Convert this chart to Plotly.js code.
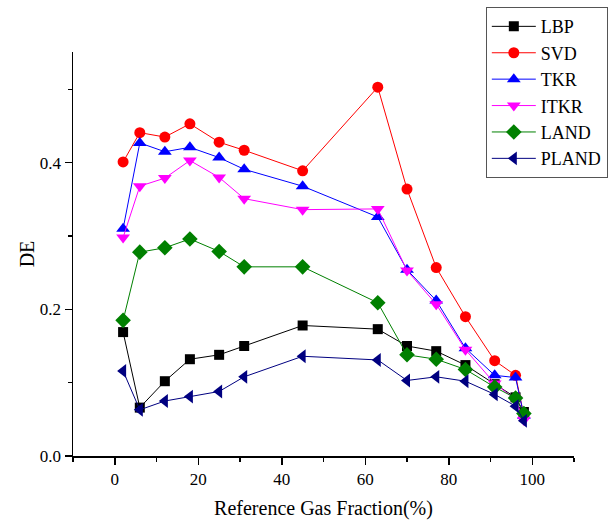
<!DOCTYPE html>
<html>
<head>
<meta charset="utf-8">
<script src="https://cdn.plot.ly/plotly-3.0.1.min.js"></script>
<style>html,body{margin:0;padding:0;background:#fff;}</style>
</head>
<body>
<div id="chart" style="width:613px;height:520px;"></div>
<script>
const fraction = [2, 6, 12, 18, 25, 31, 45, 63, 70, 77, 84, 91, 96, 98];
const LBP   = [0.169, 0.066, 0.102, 0.132, 0.138, 0.150, 0.178, 0.173, 0.150, 0.143, 0.124, 0.098, 0.080, 0.060];
const SVD   = [0.401, 0.441, 0.435, 0.453, 0.428, 0.417, 0.389, 0.503, 0.364, 0.257, 0.190, 0.130, 0.110, 0.055];
const TKR   = [0.310, 0.427, 0.415, 0.421, 0.407, 0.391, 0.368, 0.326, 0.254, 0.212, 0.147, 0.110, 0.107, 0.055];
const ITKR  = [0.298, 0.368, 0.379, 0.403, 0.380, 0.351, 0.336, 0.337, 0.253, 0.207, 0.145, 0.099, 0.077, 0.049];
const LAND  = [0.185, 0.278, 0.284, 0.296, 0.279, 0.258, 0.258, 0.209, 0.138, 0.132, 0.118, 0.094, 0.079, 0.058];
const PLAND = [0.116, 0.063, 0.075, 0.081, 0.088, 0.108, 0.136, 0.131, 0.103, 0.108, 0.102, 0.084, 0.068, 0.048];

const seriesNames = ['LBP', 'SVD', 'TKR', 'ITKR', 'LAND', 'PLAND'];
const seriesData = [LBP, SVD, TKR, ITKR, LAND, PLAND];
const colors = ['#000000', '#ff0000', '#0000ff', '#ff00ff', '#008000', '#000080'];
const symbols = ['square', 'circle', 'triangle-up', 'triangle-down', 'diamond', 'triangle-left'];
const sizes = [10, 11, 12, 12, 12, 12];

const traces = seriesNames.map((n, i) => ({
  x: fraction, y: seriesData[i], name: n, type: 'scatter', mode: 'lines+markers',
  line: {color: colors[i], width: 1},
  marker: {color: colors[i], symbol: symbols[i], size: sizes[i], line: {width: 0}}
}));

const font = 'Liberation Serif';
const layout = {
  width: 613, height: 520,
  margin: {l: 73, r: 39, t: 52, b: 64, autoexpand: false},
  paper_bgcolor: '#fff', plot_bgcolor: '#fff',
  font: {family: font, size: 17, color: '#000'},
  showlegend: true,
  legend: {x: 0.824, y: 1.111, xanchor: 'left', yanchor: 'top',
    bordercolor: '#555', borderwidth: 1, bgcolor: '#fff',
    font: {family: font, size: 18, color: '#000'}, tracegroupgap: 0, itemwidth: 44},
  xaxis: {
    range: [-10, 110], tickvals: [0, 20, 40, 60, 80, 100], ticktext: ['0','20','40','60','80','100'],
    ticks: 'outside', ticklen: 7, tickwidth: 1.5, tickcolor: '#000',
    minor: {dtick: 10, tick0: 0, ticks: 'outside', ticklen: 4, tickwidth: 1.5, tickcolor: '#000'},
    showline: true, linecolor: '#000', linewidth: 1.5, showgrid: false, zeroline: false,
    tickfont: {family: font, size: 17},
    title: {text: 'Reference Gas Fraction(%)', font: {family: font, size: 20}, standoff: 14}
  },
  yaxis: {
    range: [0, 0.551], tickvals: [0, 0.2, 0.4], ticktext: ['0.0', '0.2', '0.4'],
    ticks: 'outside', ticklen: 7, tickwidth: 1.5, tickcolor: '#000',
    minor: {dtick: 0.1, tick0: 0, ticks: 'outside', ticklen: 4, tickwidth: 1.5, tickcolor: '#000'},
    showline: true, linecolor: '#000', linewidth: 1.5, showgrid: false, zeroline: false,
    tickfont: {family: font, size: 17},
    title: {text: 'DE', font: {family: font, size: 20}, standoff: 0}
  }
};

Plotly.newPlot('chart', traces, layout, {displayModeBar: false, staticPlot: true});
</script>
</body>
</html>
